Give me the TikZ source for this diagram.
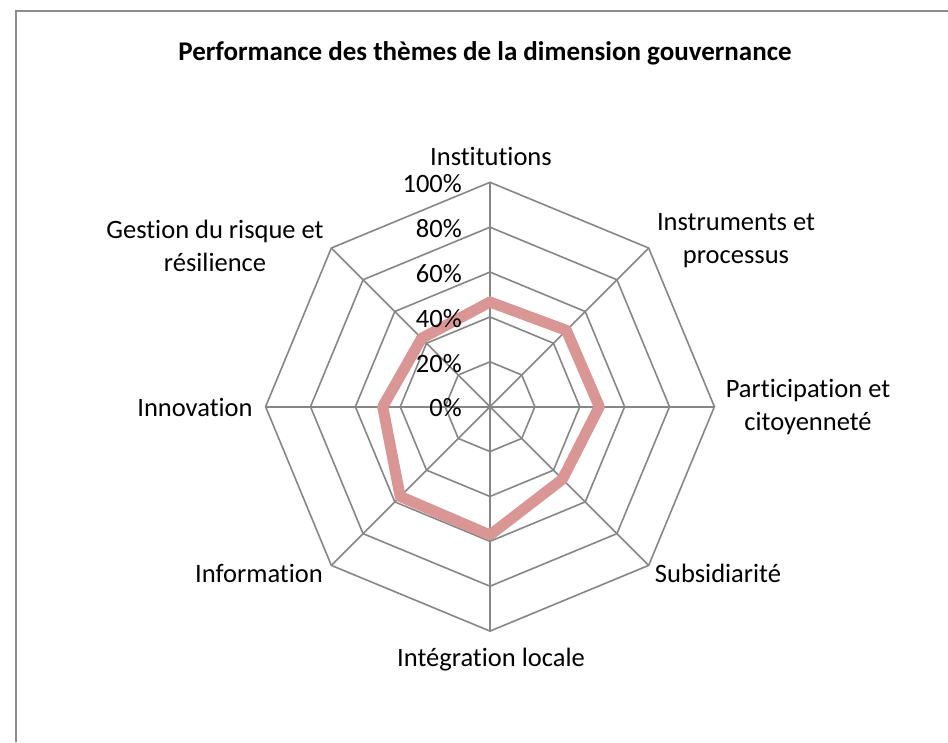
\documentclass[tikz,border=0pt]{standalone}
\usepackage{fontspec}
\setmainfont{Carlito}[RawFeature={-liga;-clig}]
\definecolor{gridgray}{HTML}{868686}
\definecolor{framegray}{HTML}{8C8C8C}
\definecolor{seriesred}{HTML}{D99694}
\begin{document}
\begin{tikzpicture}[x=1pt,y=1pt,
  gridline/.style={draw=gridgray, line width=1.6pt},
  lbl/.style={font=\fontsize{26.5}{33}\selectfont, align=center, inner sep=0pt},
  ticklbl/.style={font=\fontsize{26.5}{33}\selectfont, anchor=east, inner sep=0pt},
  titlelbl/.style={font=\fontsize{27}{33}\selectfont\bfseries, inner sep=0pt},
  series/.style={draw=seriesred, line width=11pt, line join=round}]
\useasboundingbox (0,-742) rectangle (948,0);
\fill[white] (0,-742) rectangle (948,0);
\draw[framegray, line width=2pt] (16,-742) -- (16,-11) -- (948,-11);
\coordinate (O) at (490,-406.7);
% grid rings
\foreach \r in {44.88,89.76,134.64,179.52,224.4}{
  \draw[gridline, shift={(O)}] (90:\r) -- (45:\r) -- (0:\r) -- (-45:\r) -- (-90:\r) -- (-135:\r) -- (180:\r) -- (135:\r) -- cycle;
}
% spokes
\foreach \a in {0,45,...,315}{
  \draw[gridline] (O) -- ++(\a:224.4);
}
% series
\draw[series, shift={(O)}] (90:104.7) -- (45:108) -- (0:109.3) -- (-45:102.5) -- (-90:128.3) -- (-135:127) -- (180:107.3) -- (135:96.7) -- cycle;
% tick labels
\node[ticklbl] (t0) at (462,-408) {0\%};
\node[ticklbl] (t20) at (462,-363.6) {20\%};
\node[ticklbl] (t40) at (462,-318.7) {40\%};
\node[ticklbl] (t60) at (462,-273.8) {60\%};
\node[ticklbl] (t80) at (462,-229) {80\%};
\node[ticklbl] (t100) at (462,-184) {100\%};
% title
\node[titlelbl] (title) at (485,-53) {Performance des thèmes de la dimension gouvernance};
% category labels
\node[lbl] (inst) at (491,-156) {Institutions};
\node[lbl] (instr) at (736,-241) {Instruments et\\processus};
\node[lbl] (part) at (808,-407) {Participation et\\citoyenneté};
\node[lbl] (subs) at (718,-573) {Subsidiarité};
\node[lbl] (integ) at (491,-660) {Intégration locale};
\node[lbl] (info) at (259,-573) {Information};
\node[lbl] (innov) at (195,-407) {Innovation};
\node[lbl] (gest) at (215,-246) {Gestion du risque et\\résilience};
\end{tikzpicture}
\end{document}
